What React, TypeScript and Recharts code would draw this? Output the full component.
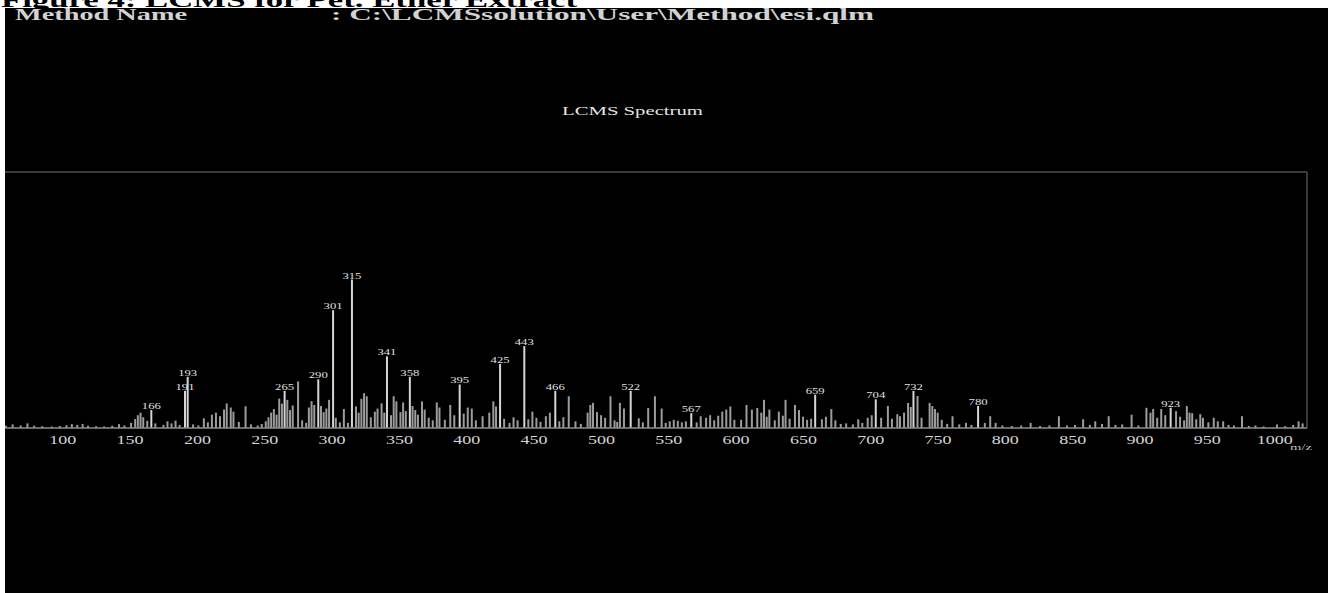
import React from 'react';
import { ComposedChart, Bar, XAxis, YAxis, Cell, LabelList, ReferenceLine } from 'recharts';

// m/z of every centroid peak in the scan
const MZ = [
  45, 52, 58, 63, 69, 74, 79, 85, 92, 98, 103, 107, 111, 115, 119, 125, 131, 137, 142, 146,
  151, 154, 156, 158, 160, 163, 166, 169, 175, 178, 181, 184, 187, 191, 193,
  197, 201, 205, 208, 211, 214, 217, 220, 222, 225, 227, 231, 236, 240, 245, 248,
  251, 253, 255, 257, 259, 261, 263, 265, 267, 269, 271, 275, 278, 281,
  283, 285, 287, 290, 292, 294, 296, 298, 301, 303, 306, 309, 312,
  315, 318, 320, 322, 324, 326, 329, 332, 334, 337, 339, 341, 344, 346, 348, 351, 353, 355,
  358, 360, 362, 364, 367, 369, 372, 375, 378, 380, 384, 388, 391, 395, 398, 401, 404, 407,
  412, 417, 420, 422, 425, 428, 432, 435, 438, 443, 446, 449, 452, 455, 459, 462, 466, 469,
  472, 476, 481, 485, 490, 492, 494, 497, 500, 503, 507, 510, 512, 514, 517, 522, 528, 531,
  535, 540, 545, 548, 551, 554, 557, 560, 563, 567, 571, 574, 578, 581, 584, 587, 590, 593,
  596, 599, 604, 608, 612, 616, 619, 621, 623, 625, 629, 632, 635, 637, 640, 644, 647, 650,
  653, 656, 659, 664, 667, 671, 674, 678, 682, 687, 691, 694, 698, 701, 704, 708, 713, 716,
  720, 722, 725, 728, 730, 732, 735, 738, 744, 746, 748, 750, 753, 757, 761, 766, 771, 775,
  780, 785, 789, 793, 798, 805, 812, 819, 826, 833, 840, 846, 852, 858, 863, 867, 872, 877,
  882, 887, 894, 899, 905, 908, 910, 913, 916, 919, 923, 927, 930, 933, 935, 937, 939, 942,
  945, 947, 951, 955, 958, 962, 966, 970, 976, 981, 986, 992, 1002, 1008, 1014, 1018, 1021,
];

// relative intensity (%) for each entry of MZ
const INTENSITY = [
  0.8, 1.2, 0.9, 1.4, 1.0, 1.8, 0.9, 0.7, 0.6, 0.8, 1.1, 1.5, 1.2, 1.6, 0.9, 0.7, 0.6, 0.9, 1.5, 1.0,
  2.0, 3.5, 5.0, 6.0, 4.2, 2.8, 7.0, 1.8, 1.2, 2.6, 1.8, 2.9, 1.2, 14.5, 20.0,
  1.4, 1.0, 3.8, 2.2, 5.2, 6.0, 4.6, 7.2, 9.6, 8.0, 6.4, 2.4, 8.5, 1.4, 1.0, 1.6,
  2.6, 4.2, 6.0, 7.4, 5.2, 11.5, 9.5, 14.5, 11.0, 7.0, 8.8, 18.2, 3.0, 2.0,
  8.0, 10.5, 9.0, 19.0, 8.6, 6.2, 7.6, 11.0, 46.0, 4.0, 2.2, 7.4, 2.0,
  58.0, 8.4, 6.0, 11.4, 13.6, 12.4, 4.2, 6.4, 7.6, 9.6, 6.0, 28.0, 5.0, 12.4, 10.4, 6.2, 10.0, 6.6,
  20.0, 8.6, 7.0, 5.2, 10.4, 7.2, 4.0, 3.0, 10.0, 8.0, 3.2, 9.0, 5.0, 17.0, 5.6, 8.0, 7.6, 3.0,
  4.6, 6.0, 10.4, 8.4, 25.0, 3.6, 2.0, 4.2, 3.0, 32.0, 3.4, 6.4, 4.0, 2.4, 4.6, 6.0, 14.5, 2.6,
  4.2, 12.4, 2.6, 1.6, 6.0, 9.0, 9.8, 6.2, 5.0, 4.0, 12.4, 3.0, 2.4, 9.8, 7.6, 14.5, 3.8, 2.2,
  7.8, 12.4, 7.6, 2.0, 2.6, 3.2, 2.8, 2.2, 2.6, 5.8, 2.2, 4.6, 4.0, 5.0, 3.0, 4.8, 6.4, 7.2,
  8.4, 3.2, 3.2, 9.0, 7.2, 7.8, 6.0, 11.0, 4.4, 7.2, 3.0, 6.4, 4.8, 11.0, 3.6, 9.0, 7.0, 4.4,
  3.2, 3.6, 13.0, 3.4, 4.4, 7.4, 3.0, 1.6, 1.8, 1.4, 3.4, 2.0, 4.0, 5.0, 11.2, 4.0, 8.6, 3.6,
  5.4, 4.6, 6.0, 9.8, 8.2, 14.5, 12.5, 4.0, 9.8, 8.6, 7.4, 6.0, 3.2, 1.6, 4.6, 1.4, 2.0, 1.2,
  8.6, 2.0, 4.6, 2.0, 1.0, 0.8, 1.0, 2.0, 0.8, 1.0, 4.6, 1.0, 1.2, 3.4, 1.2, 2.6, 1.6, 4.6,
  1.2, 1.4, 5.2, 1.0, 7.9, 6.0, 7.4, 4.0, 7.4, 5.0, 7.9, 6.6, 4.4, 3.0, 8.6, 6.0, 5.8, 3.4,
  5.4, 4.0, 2.2, 4.0, 2.6, 2.6, 1.2, 1.0, 4.6, 0.8, 1.0, 0.6, 1.4, 0.7, 1.2, 2.6, 1.8,
];

// peaks annotated with their m/z
const LABELED = [166, 191, 193, 265, 290, 301, 315, 341, 358, 395, 425, 443, 466, 522, 567, 659, 704, 732, 780, 923];

const X_TICKS = [50, 100, 150, 200, 250, 300, 350, 400, 450, 500, 550, 600, 650, 700, 750, 800, 850, 900, 950, 1000];

const spectrum = MZ.map((mz, i) => ({
  mz,
  intensity: INTENSITY[i],
  tag: LABELED.includes(mz) ? mz : undefined,
}));

const SERIF = '"Liberation Serif", "Times New Roman", serif';

const MzTick = (props: any) => {
  const { x, y, payload } = props;
  const s = String(payload.value);
  return (
    <text
      x={x}
      y={y + 16}
      textAnchor="middle"
      fontFamily={SERIF}
      fontSize={12}
      fill="#d4d4d4"
      textLength={s.length * 9}
      lengthAdjust="spacingAndGlyphs"
    >
      {s}
    </text>
  );
};

const PeakLabel = (props: any) => {
  const { x, y, width, value } = props;
  if (value === undefined || value === null) return null;
  return (
    <text
      x={x + width / 2}
      y={y - 1}
      textAnchor="middle"
      fontFamily={SERIF}
      fontSize={8}
      fill="#e2e2e2"
      textLength={19}
      lengthAdjust="spacingAndGlyphs"
    >
      {value}
    </text>
  );
};

export default function App() {
  return (
    <div style={{ position: 'absolute', left: 0, top: 0, width: 1328, height: 593, overflow: 'hidden', background: '#fff' }}>
      <svg width={1328} height={20} style={{ position: 'absolute', left: 0, top: 0 }}>
        <text x={1} y={7} fontFamily={SERIF} fontWeight="bold" fontSize={20} fill="#000" textLength={576} lengthAdjust="spacingAndGlyphs">
          Figure 4:  LCMS for Pet. Ether Extract
        </text>
      </svg>

      <div style={{ position: 'absolute', left: 5, top: 8, width: 1323, height: 585, background: '#000', overflow: 'hidden' }}>
        <svg width={1323} height={585} style={{ position: 'absolute', left: 0, top: 0 }}>
          <text x={10} y={12} fontFamily={SERIF} fontWeight="bold" fontSize={17} fill="#d2d2d2" textLength={172} lengthAdjust="spacingAndGlyphs">
            Method Name
          </text>
          <text x={326} y={12} fontFamily={SERIF} fontWeight="bold" fontSize={17} fill="#d2d2d2" textLength={543} lengthAdjust="spacingAndGlyphs">
            : C:\LCMSsolution\User\Method\esi.qlm
          </text>
          <text x={557} y={107} fontFamily={SERIF} fontSize={13} fill="#e4e4e4" textLength={141} lengthAdjust="spacingAndGlyphs">
            LCMS Spectrum
          </text>
          <text x={1296} y={442} textAnchor="middle" fontFamily={SERIF} fontSize={8} fill="#bdbdbd" textLength={22} lengthAdjust="spacingAndGlyphs">
            m/z
          </text>
        </svg>

        <div style={{ position: 'absolute', left: -23, top: 160 }}>
          <ComposedChart width={1335} height={300} data={spectrum} margin={{ top: 4, right: 10, bottom: 0, left: 0 }}>
            <XAxis
              dataKey="mz"
              type="number"
              domain={[40, 1024]}
              ticks={X_TICKS}
              allowDataOverflow
              height={40}
              tickSize={0}
              tickMargin={0}
              tick={<MzTick />}
              axisLine={{ stroke: '#8e8e8e', strokeWidth: 1.5 }}
              tickLine={false}
            />
            <YAxis hide type="number" domain={[0, 100]} allowDataOverflow />
            <ReferenceLine y={100} stroke="#3a3a3a" strokeWidth={2} />
            <ReferenceLine x={1024} stroke="#3a3a3a" strokeWidth={2} />
            <Bar dataKey="intensity" barSize={2} isAnimationActive={false}>
              {spectrum.map((d) => (
                <Cell key={d.mz} fill={d.tag ? '#d6d6d6' : '#9c9c9c'} />
              ))}
              <LabelList dataKey="tag" content={<PeakLabel />} />
            </Bar>
          </ComposedChart>
        </div>
      </div>
    </div>
  );
}
